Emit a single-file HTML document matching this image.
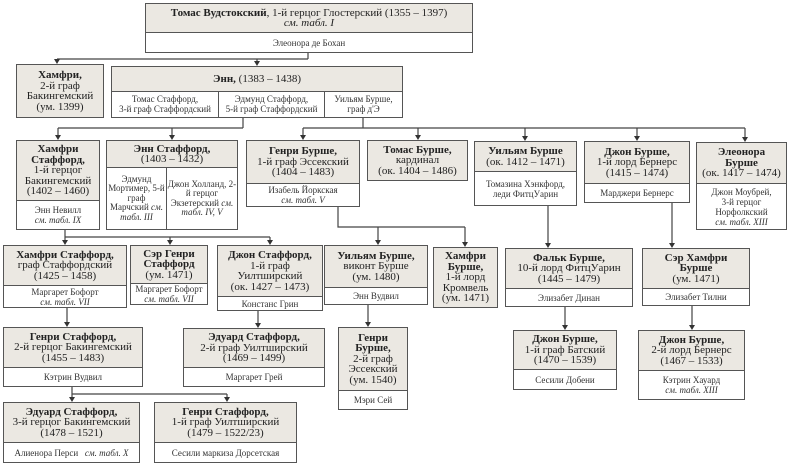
<!DOCTYPE html>
<html><head><meta charset="utf-8"><style>
body{margin:0;width:790px;height:465px;background:#fff;position:relative;overflow:hidden;font-family:"Liberation Serif",serif;color:#222}
.b{position:absolute;box-sizing:border-box;border:1.5px solid #555;background:#fff;display:flex;flex-direction:column}
.h{background:#ebe8e2;box-sizing:border-box;display:flex;align-items:center;justify-content:center;text-align:center;font-size:11px;line-height:10.5px;flex:none;border-bottom:1px solid #555}
.h.all{border-bottom:none;flex:1}
.s{flex:1;display:flex;align-items:center;justify-content:center;text-align:center;font-size:9px;line-height:10px;color:#333}
.row{flex:1;display:flex}
.row>div{display:flex;align-items:center;justify-content:center;text-align:center;font-size:9px;line-height:9.5px;color:#333;box-sizing:border-box}
.row>div+div{border-left:1px solid #555}
svg{position:absolute;left:0;top:0}
</style></head><body>
<svg width="790" height="465" stroke="#444" stroke-width="1.2" fill="none">
<path d="M308 52V59M57 59H308M57 59V61M257 59V63
M243 118V128M58 128H243M58 128V135M172 128V135
M363 118V128M303 128H745M303 128V135M418 128V135M525 128V136M637 128V136M745 128V137
M65 230V237M65 237H270M65 237V240M170 237V240M270 237V240
M338 207V227H465M378 227V240M465 227V242
M548 206V243M672 203V243
M67 308V322M258 311V323M368 305V322M565 307V325M692 306V325
M72 387V394H227M72 394V397M227 394V397"/>
<g fill="#333" stroke="none">
<path d="M54 59h6l-3 5z"/><path d="M254 61h6l-3 5z"/>
<path d="M55 135h6l-3 5z"/><path d="M169 135h6l-3 5z"/><path d="M300 135h6l-3 5z"/><path d="M415 135h6l-3 5z"/><path d="M522 136h6l-3 5z"/><path d="M634 136h6l-3 5z"/><path d="M742 137h6l-3 5z"/>
<path d="M62 240h6l-3 5z"/><path d="M167 240h6l-3 5z"/><path d="M267 240h6l-3 5z"/><path d="M375 240h6l-3 5z"/><path d="M462 242h6l-3 5z"/><path d="M545 243h6l-3 5z"/><path d="M669 243h6l-3 5z"/>
<path d="M64 322h6l-3 5z"/><path d="M255 323h6l-3 5z"/><path d="M365 322h6l-3 5z"/><path d="M562 325h6l-3 5z"/><path d="M689 325h6l-3 5z"/>
<path d="M69 397h6l-3 5z"/><path d="M224 397h6l-3 5z"/>
</g></svg>

<div class="b" style="left:145px;top:3px;width:328px;height:50px"><div class="h" style="height:29px"><span><b>Томас Вудстокский</b>, 1-й герцог Глостерский (1355 – 1397)<br><i>см. табл. I</i></span></div><div class="s">Элеонора де Бохан</div></div>

<div class="b" style="left:16px;top:64px;width:88px;height:54px"><div class="h all"><span><b>Хамфри,</b><br>2-й граф<br>Бакингемский<br>(ум. 1399)</span></div></div>

<div class="b" style="left:111px;top:66px;width:292px;height:52px"><div class="h" style="height:25px"><span><b>Энн,</b> (1383 – 1438)</span></div><div class="row"><div style="width:106px"><span>Томас Стаффорд,<br>3-й граф Стаффордский</span></div><div style="width:106px"><span>Эдмунд Стаффорд,<br>5-й граф Стаффордский</span></div><div style="flex:1"><span>Уильям Бурше,<br>граф д'Э</span></div></div></div>

<div class="b" style="left:16px;top:140px;width:84px;height:90px"><div class="h" style="height:60px"><span><b>Хамфри Стаффорд,</b><br>1-й герцог Бакингемский<br>(1402 – 1460)</span></div><div class="s"><span>Энн Невилл<br><i>см. табл. IX</i></span></div></div>

<div class="b" style="left:106px;top:140px;width:132px;height:90px"><div class="h" style="height:27px"><span><b>Энн Стаффорд,</b><br>(1403 – 1432)</span></div><div class="row"><div style="width:59px"><span>Эдмунд Мортимер, 5-й граф Марчский <i>см. табл. III</i></span></div><div style="flex:1"><span>Джон Холланд, 2-й герцог Экзетерский <i>см. табл. IV, V</i></span></div></div></div>

<div class="b" style="left:246px;top:140px;width:114px;height:67px"><div class="h" style="height:43px"><span><b>Генри Бурше,</b><br>1-й граф Эссекский<br>(1404 – 1483)</span></div><div class="s"><span>Изабель Йоркская<br><i>см. табл. V</i></span></div></div>

<div class="b" style="left:367px;top:140px;width:101px;height:41px"><div class="h all"><span><b>Томас Бурше,</b><br>кардинал<br>(ок. 1404 – 1486)</span></div></div>

<div class="b" style="left:474px;top:141px;width:103px;height:65px"><div class="h" style="height:30px"><span><b>Уильям Бурше</b><br>(ок. 1412 – 1471)</span></div><div class="s"><span>Томазина Хэнкфорд,<br>леди ФитцУарин</span></div></div>

<div class="b" style="left:584px;top:141px;width:106px;height:62px"><div class="h" style="height:42px"><span><b>Джон Бурше,</b><br>1-й лорд Бернерс<br>(1415 – 1474)</span></div><div class="s">Марджери Бернерс</div></div>

<div class="b" style="left:696px;top:142px;width:91px;height:88px"><div class="h" style="height:41px"><span><b>Элеонора<br>Бурше</b><br>(ок. 1417 – 1474)</span></div><div class="s"><span>Джон Моубрей,<br>3-й герцог<br>Норфолкский<br><i>см. табл. XIII</i></span></div></div>

<div class="b" style="left:3px;top:245px;width:124px;height:63px"><div class="h" style="height:40px"><span><b>Хамфри Стаффорд,</b><br>граф Стаффордский<br>(1425 – 1458)</span></div><div class="s"><span>Маргарет Бофорт<br><i>см. табл. VII</i></span></div></div>

<div class="b" style="left:130px;top:245px;width:78px;height:60px"><div class="h" style="height:38px"><span><b>Сэр Генри<br>Стаффорд</b><br>(ум. 1471)</span></div><div class="s"><span>Маргарет Бофорт<br><i>см. табл. VII</i></span></div></div>

<div class="b" style="left:217px;top:245px;width:106px;height:66px"><div class="h" style="height:51px"><span><b>Джон Стаффорд,</b><br>1-й граф<br>Уилтширский<br>(ок. 1427 – 1473)</span></div><div class="s">Констанс Грин</div></div>

<div class="b" style="left:324px;top:245px;width:104px;height:60px"><div class="h" style="height:42px"><span><b>Уильям Бурше,</b><br>виконт Бурше<br>(ум. 1480)</span></div><div class="s">Энн Вудвил</div></div>

<div class="b" style="left:433px;top:247px;width:65px;height:61px"><div class="h all"><span><b>Хамфри Бурше,</b><br>1-й лорд<br>Кромвель<br>(ум. 1471)</span></div></div>

<div class="b" style="left:505px;top:248px;width:128px;height:59px"><div class="h" style="height:40px"><span><b>Фальк Бурше,</b><br>10-й лорд ФитцУарин<br>(1445 – 1479)</span></div><div class="s">Элизабет Динан</div></div>

<div class="b" style="left:642px;top:248px;width:108px;height:58px"><div class="h" style="height:40px"><span><b>Сэр Хамфри<br>Бурше</b><br>(ум. 1471)</span></div><div class="s">Элизабет Тилни</div></div>

<div class="b" style="left:3px;top:327px;width:140px;height:60px"><div class="h" style="height:40px"><span><b>Генри Стаффорд,</b><br>2-й герцог Бакингемский<br>(1455 – 1483)</span></div><div class="s">Кэтрин Вудвил</div></div>

<div class="b" style="left:183px;top:328px;width:142px;height:59px"><div class="h" style="height:39px"><span><b>Эдуард Стаффорд,</b><br>2-й граф Уилтширский<br>(1469 – 1499)</span></div><div class="s">Маргарет Грей</div></div>

<div class="b" style="left:338px;top:327px;width:70px;height:83px"><div class="h" style="height:63px"><span><b>Генри Бурше,</b><br>2-й граф<br>Эссекский<br>(ум. 1540)</span></div><div class="s">Мэри Сей</div></div>

<div class="b" style="left:513px;top:330px;width:104px;height:60px"><div class="h" style="height:39px"><span><b>Джон Бурше,</b><br>1-й граф Батский<br>(1470 – 1539)</span></div><div class="s">Сесили Добени</div></div>

<div class="b" style="left:638px;top:330px;width:107px;height:70px"><div class="h" style="height:40px"><span><b>Джон Бурше,</b><br>2-й лорд Бернерс<br>(1467 – 1533)</span></div><div class="s"><span>Кэтрин Хауард<br><i>см. табл. XIII</i></span></div></div>

<div class="b" style="left:3px;top:402px;width:137px;height:61px"><div class="h" style="height:40px"><span><b>Эдуард Стаффорд,</b><br>3-й герцог Бакингемский<br>(1478 – 1521)</span></div><div class="s">Алиенора Перси &nbsp;&nbsp;<i>см. табл. X</i></div></div>

<div class="b" style="left:154px;top:402px;width:143px;height:61px"><div class="h" style="height:40px"><span><b>Генри Стаффорд,</b><br>1-й граф Уилтширский<br>(1479 – 1522/23)</span></div><div class="s">Сесили маркиза Дорсетская</div></div>
</body></html>
